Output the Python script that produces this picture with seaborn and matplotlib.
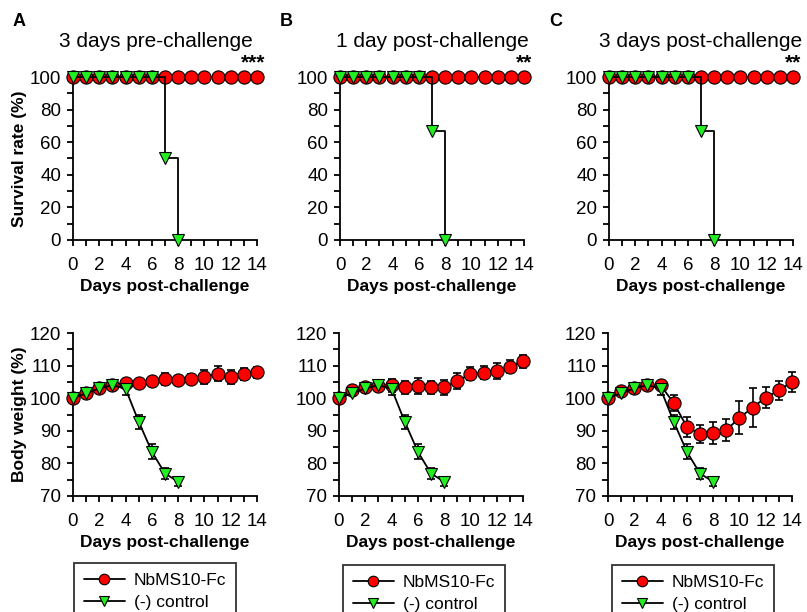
import numpy as np
import pandas as pd
import matplotlib
matplotlib.use("Agg")
import matplotlib.pyplot as plt
import seaborn as sns

# Dane
days = list(range(15))
days_ctrl = list(range(9))

panel_letters = ["A", "B", "C"]
panel_titles = ["3 days pre-challenge", "1 day post-challenge", "3 days post-challenge"]
stars = ["***", "**", "**"]

surv_nb = [100] * 15
surv_ctrl_a = [100, 100, 100, 100, 100, 100, 100, 50, 0]
surv_ctrl_b = [100, 100, 100, 100, 100, 100, 100, 66.7, 0]
surv_ctrl_c = [100, 100, 100, 100, 100, 100, 100, 66.7, 0]

bw_nb_a = [100, 101.7, 103.2, 104.1, 104.6, 104.6, 105.2, 106.0, 105.5, 106.0, 106.5, 107.5, 106.5, 107.4, 107.9]
bw_nb_a_err = [0.5, 0.8, 0.8, 0.8, 1.0, 1.0, 1.0, 1.8, 1.0, 1.5, 2.0, 2.3, 2.0, 1.8, 1.8]
bw_nb_b = [100, 102.4, 103.3, 103.8, 104.0, 103.3, 103.7, 103.3, 103.3, 105.2, 107.5, 107.8, 108.3, 109.6, 111.4]
bw_nb_b_err = [0.5, 0.8, 0.8, 0.8, 2.0, 2.0, 2.5, 2.0, 2.2, 2.5, 2.0, 2.0, 2.5, 2.0, 2.0]
bw_nb_c = [100, 102.2, 103.2, 103.9, 103.9, 98.6, 91.2, 89.0, 89.3, 90.2, 94.0, 97.1, 100.2, 102.4, 105.0]
bw_nb_c_err = [0.5, 0.8, 0.8, 0.8, 1.0, 2.5, 3.0, 2.8, 3.5, 3.3, 5.0, 6.0, 3.2, 3.0, 3.0]

bw_ctrl = [100, 101.5, 103.0, 104.0, 102.9, 92.8, 83.6, 76.9, 74.4]
bw_ctrl_err = [0.5, 0.6, 0.6, 0.6, 1.8, 2.2, 2.2, 1.6, 1.3]

surv_ctrl = [surv_ctrl_a, surv_ctrl_b, surv_ctrl_c]
bw_nb = [bw_nb_a, bw_nb_b, bw_nb_c]
bw_nb_err = [bw_nb_a_err, bw_nb_b_err, bw_nb_c_err]

RED = "#ff0000"
GREEN = "#22ee22"

sns.set_style("ticks")
plt.rcParams["font.family"] = ["Liberation Sans", "DejaVu Sans"]
plt.rcParams["text.color"] = "black"
plt.rcParams["axes.labelcolor"] = "black"
plt.rcParams["axes.edgecolor"] = "black"
plt.rcParams["axes.linewidth"] = 1.3
for ax_name in ["xtick", "ytick"]:
    plt.rcParams[ax_name + ".color"] = "black"
    plt.rcParams[ax_name + ".major.width"] = 1.3
    plt.rcParams[ax_name + ".minor.width"] = 1.3
    plt.rcParams[ax_name + ".major.size"] = 4
    plt.rcParams[ax_name + ".minor.size"] = 4

fig = plt.figure(figsize=(8.07, 6.12), dpi=100)
W, H = 807.0, 612.0

top_left = [73, 340, 609]
bot_left = [73, 339, 608]
leg_left = [74, 343, 612]
leg_top = [563, 565, 565]
aw = 184


def style_axis(ax, ymin, ymax, major, minor):
    ax.set_xlim(0, 14)
    ax.set_ylim(ymin, ymax)
    ax.set_xticks(range(0, 15, 2))
    ax.set_xticks(range(1, 15, 2), minor=True)
    ax.set_yticks(np.arange(ymin, ymax + 1, major))
    ax.set_yticks(np.arange(ymin, ymax + 1, minor), minor=True)
    ax.tick_params(axis="both", which="both", direction="out", colors="black",
                   labelsize=13.5)
    ax.tick_params(axis="x", which="both", pad=8)
    ax.tick_params(axis="y", which="both", pad=4.5)
    ax.set_xlabel("Days post-challenge", fontsize=12.5, fontweight="bold", labelpad=4)
    for side in ["top", "right"]:
        ax.spines[side].set_visible(False)
    ax.set_facecolor("white")


for i in range(3):
    # Przeżywalność
    ax = fig.add_axes([top_left[i] / W, 1 - 240 / H, aw / W, 163 / H])
    sns.lineplot(x=days, y=surv_nb, ax=ax, color="black", lw=1.3, marker="o",
                 markerfacecolor=RED, markeredgecolor="black", markeredgewidth=0.8,
                 markersize=9.5, clip_on=False, zorder=3)
    sns.lineplot(x=days_ctrl, y=surv_ctrl[i], ax=ax, color="black", lw=1.3, marker="v",
                 markerfacecolor=GREEN, markeredgecolor="black", markeredgewidth=0.8,
                 markersize=9, drawstyle="steps-post", clip_on=False, zorder=4)
    style_axis(ax, 0, 100, 20, 10)
    if i == 0:
        ax.set_ylabel("Survival rate (%)", fontsize=12.5, fontweight="bold", labelpad=2)
    else:
        ax.set_ylabel("")
    tx = 0.45 if i == 0 else 0.5
    ax.text(tx, 1.22, panel_titles[i], transform=ax.transAxes, ha="center",
            va="center", fontsize=15)
    ax.annotate(stars[i], xy=(14, 100), xytext=(6, 3), textcoords="offset points",
                ha="right", va="bottom", fontsize=15, fontweight="bold")
    fig.text((top_left[i] - 60) / W, 1 - 22 / H, panel_letters[i],
             fontsize=13, fontweight="bold", va="center", ha="left")

    # Masa ciała
    ax2 = fig.add_axes([bot_left[i] / W, 1 - 496 / H, aw / W, 163 / H])
    ax2.errorbar(days, bw_nb[i], yerr=bw_nb_err[i], fmt="none", ecolor="black",
                 elinewidth=1.2, capsize=3, capthick=1.2, clip_on=False, zorder=2)
    ax2.errorbar(days_ctrl, bw_ctrl, yerr=bw_ctrl_err, fmt="none", ecolor="black",
                 elinewidth=1.2, capsize=3, capthick=1.2, clip_on=False, zorder=2)
    sns.lineplot(x=days, y=bw_nb[i], ax=ax2, color="black", lw=1.3, marker="o",
                 markerfacecolor=RED, markeredgecolor="black", markeredgewidth=0.8,
                 markersize=9.5, clip_on=False, zorder=3, label="NbMS10-Fc")
    sns.lineplot(x=days_ctrl, y=bw_ctrl, ax=ax2, color="black", lw=1.3, marker="v",
                 markerfacecolor=GREEN, markeredgecolor="black", markeredgewidth=0.8,
                 markersize=9, clip_on=False, zorder=4, label="(-) control")
    style_axis(ax2, 70, 120, 10, 5)
    if i == 0:
        ax2.set_ylabel("Body weight (%)", fontsize=12.5, fontweight="bold", labelpad=2)
    else:
        ax2.set_ylabel("")
    handles, labels = ax2.get_legend_handles_labels()
    ax2.get_legend().remove()
    leg = fig.legend(handles, labels, loc="upper left",
                     bbox_to_anchor=(leg_left[i] / W, 1 - leg_top[i] / H),
                     borderaxespad=0, markerscale=0.8,
                     frameon=True, fancybox=False, edgecolor="black", fontsize=12.5,
                     handlelength=2.4, borderpad=0.55, labelspacing=0.4,
                     handletextpad=0.5)
    leg.get_frame().set_linewidth(1.3)

fig.savefig("out.png", dpi=100, facecolor="white")
